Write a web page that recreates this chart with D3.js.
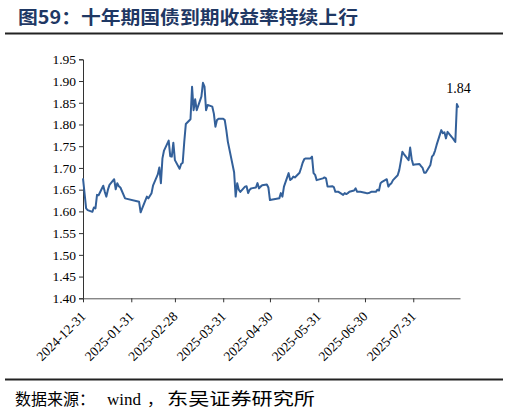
<!doctype html>
<html>
<head>
  <meta charset="utf-8">
  <title>十年期国债到期收益率持续上行</title>
  <script src="https://d3js.org/d3.v7.min.js"></script>
  <style>
    body { margin: 0; background: #fff; }
    .tick text { font-family: "Liberation Serif", "Times New Roman", serif; font-size: 13px; fill: #000; }
  </style>
</head>
<body>
  <div id="chart"></div>
  <script>
    // 十年期国债到期收益率 (%)，按交易日
    var dates = [
      "2024-12-31", "2025-01-02", "2025-01-03", "2025-01-06", "2025-01-07", "2025-01-08", "2025-01-09", "2025-01-10",
      "2025-01-13", "2025-01-14", "2025-01-15", "2025-01-16", "2025-01-17", "2025-01-20", "2025-01-21", "2025-01-22",
      "2025-01-23", "2025-01-24", "2025-01-27", "2025-02-05", "2025-02-06", "2025-02-07", "2025-02-10", "2025-02-11",
      "2025-02-13", "2025-02-14", "2025-02-17", "2025-02-18", "2025-02-19", "2025-02-20", "2025-02-21", "2025-02-24",
      "2025-02-25", "2025-02-26", "2025-02-27", "2025-02-28", "2025-03-03", "2025-03-04", "2025-03-05", "2025-03-06",
      "2025-03-07", "2025-03-10", "2025-03-11", "2025-03-12", "2025-03-13", "2025-03-14", "2025-03-17", "2025-03-18",
      "2025-03-19", "2025-03-20", "2025-03-21", "2025-03-24", "2025-03-25", "2025-03-26", "2025-03-27", "2025-03-28",
      "2025-03-31", "2025-04-01", "2025-04-02", "2025-04-03", "2025-04-07", "2025-04-08", "2025-04-09", "2025-04-10",
      "2025-04-11", "2025-04-14", "2025-04-15", "2025-04-16", "2025-04-17", "2025-04-18", "2025-04-21", "2025-04-22",
      "2025-04-23", "2025-04-24", "2025-04-25", "2025-04-28", "2025-04-29", "2025-04-30", "2025-05-06", "2025-05-07",
      "2025-05-08", "2025-05-09", "2025-05-12", "2025-05-13", "2025-05-14", "2025-05-15", "2025-05-16", "2025-05-19",
      "2025-05-20", "2025-05-21", "2025-05-22", "2025-05-23", "2025-05-26", "2025-05-27", "2025-05-28", "2025-05-29",
      "2025-05-30", "2025-06-03", "2025-06-04", "2025-06-05", "2025-06-06", "2025-06-09", "2025-06-10", "2025-06-11",
      "2025-06-12", "2025-06-13", "2025-06-16", "2025-06-17", "2025-06-18", "2025-06-19", "2025-06-20", "2025-06-23",
      "2025-06-24", "2025-06-25", "2025-06-26", "2025-06-27", "2025-06-30", "2025-07-01", "2025-07-02", "2025-07-03",
      "2025-07-04", "2025-07-07", "2025-07-08", "2025-07-09", "2025-07-10", "2025-07-11", "2025-07-14", "2025-07-15",
      "2025-07-16", "2025-07-17", "2025-07-18", "2025-07-21", "2025-07-22", "2025-07-23", "2025-07-24", "2025-07-25",
      "2025-07-28", "2025-07-29", "2025-07-30", "2025-07-31", "2025-08-01", "2025-08-04", "2025-08-05", "2025-08-06",
      "2025-08-07", "2025-08-08", "2025-08-11", "2025-08-12", "2025-08-13", "2025-08-14", "2025-08-15", "2025-08-18",
      "2025-08-19", "2025-08-20", "2025-08-21", "2025-08-22", "2025-08-25", "2025-08-26", "2025-08-27", "2025-08-28",
      "2025-08-29"
    ];
    var yields = [
      1.676, 1.607, 1.603, 1.599, 1.609, 1.607, 1.638, 1.637,
      1.659, 1.645, 1.634, 1.650, 1.661, 1.674, 1.651, 1.665,
      1.658, 1.655, 1.630, 1.622, 1.598, 1.607, 1.634, 1.630,
      1.642, 1.660, 1.685, 1.701, 1.665, 1.722, 1.740, 1.763,
      1.727, 1.726, 1.758, 1.718, 1.698, 1.709, 1.712, 1.760,
      1.801, 1.812, 1.887, 1.833, 1.858, 1.833, 1.864, 1.896,
      1.887, 1.833, 1.845, 1.841, 1.825, 1.795, 1.810, 1.813,
      1.813, 1.810, 1.787, 1.760, 1.690, 1.634, 1.665, 1.650,
      1.645, 1.657, 1.658, 1.642, 1.650, 1.653, 1.655, 1.665,
      1.653, 1.657, 1.660, 1.662, 1.655, 1.626, 1.630, 1.642,
      1.634, 1.657, 1.688, 1.672, 1.675, 1.680, 1.678, 1.689,
      1.700, 1.712, 1.720, 1.722, 1.722, 1.726, 1.688, 1.684,
      1.672, 1.676, 1.678, 1.676, 1.657, 1.658, 1.656, 1.645,
      1.645, 1.645, 1.638, 1.642, 1.640, 1.642, 1.645, 1.648,
      1.653, 1.645, 1.645, 1.645, 1.643, 1.642, 1.642, 1.643,
      1.645, 1.645, 1.650, 1.648, 1.665, 1.668, 1.674, 1.657,
      1.662, 1.665, 1.672, 1.683, 1.695, 1.715, 1.737, 1.732,
      1.718, 1.747, 1.720, 1.707, 1.708, 1.709, 1.704, 1.700,
      1.689, 1.689, 1.707, 1.726, 1.730, 1.740, 1.753, 1.787,
      1.780, 1.782, 1.768, 1.783, 1.770, 1.765, 1.760, 1.847,
      1.839
    ];
    var yTicks = [1.40, 1.45, 1.50, 1.55, 1.60, 1.65, 1.70, 1.75, 1.80, 1.85, 1.90, 1.95];
    var xTicks = ["2024-12-31", "2025-01-31", "2025-02-28", "2025-03-31", "2025-04-30", "2025-05-31", "2025-06-30", "2025-07-31"];
    var xDomain = ["2024-12-31", "2025-08-30"];
    var lastLabel = "1.84";

    var width = 509;
    var height = 413;
    var parse = d3.timeParse("%Y-%m-%d");
    var fmt = d3.timeFormat("%Y-%m-%d");

    var data = dates.map(function(d, i) {
      return { date: parse(d), value: yields[i] };
    });

    var svg = d3.select("#chart")
      .append("svg")
      .attr("width", width)
      .attr("height", height);

    // title
    svg.append("text")
      .attr("x", 18)
      .attr("y", 24)
      .attr("textLength", 340)
      .attr("lengthAdjust", "spacingAndGlyphs")
      .style("font-family", "'Noto Sans CJK SC', sans-serif")
      .style("font-weight", "bold")
      .style("font-size", "18px")
      .style("fill", "#1f3864")
      .text("图59：十年期国债到期收益率持续上行");

    svg.append("line")
      .attr("x1", 5).attr("x2", 503)
      .attr("y1", 33.5).attr("y2", 33.5)
      .attr("stroke", "#222").attr("stroke-width", 2);

    svg.append("line")
      .attr("x1", 5).attr("x2", 503)
      .attr("y1", 379.5).attr("y2", 379.5)
      .attr("stroke", "#222").attr("stroke-width", 2);

    // source note, in pieces so the Latin part stays serif
    var src = svg.append("g")
      .style("font-size", "16px")
      .style("fill", "#000");
    src.append("text")
      .attr("x", 15).attr("y", 405)
      .style("font-family", "'Noto Sans CJK SC', sans-serif")
      .text("数据来源：");
    src.append("text")
      .attr("x", 107).attr("y", 405)
      .style("font-family", "'Liberation Serif', serif")
      .style("font-size", "17px")
      .text("wind");
    src.append("text")
      .attr("x", 147).attr("y", 405)
      .style("font-family", "'Noto Sans CJK SC', sans-serif")
      .text("，");
    src.append("text")
      .attr("x", 167).attr("y", 405)
      .attr("textLength", 148)
      .attr("lengthAdjust", "spacingAndGlyphs")
      .style("font-family", "'Noto Sans CJK SC', sans-serif")
      .style("font-size", "17px")
      .text("东吴证券研究所");

    // scales
    var x = d3.scaleTime()
      .domain(xDomain.map(parse))
      .range([83, 460]);

    var y = d3.scaleLinear()
      .domain([1.40, 1.95])
      .range([298.3, 59.3]);

    // y axis
    var yAxis = svg.append("g")
      .attr("transform", "translate(83,0)")
      .call(d3.axisLeft(y).tickValues(yTicks).tickFormat(d3.format(".2f")).tickSize(4).tickPadding(3));
    yAxis.select(".domain").attr("stroke", "#333");
    yAxis.selectAll(".tick line").attr("stroke", "#333");
    yAxis.selectAll(".tick text").style("font-size", "13.5px");

    // x axis
    var xAxis = svg.append("g")
      .attr("transform", "translate(0,298.3)")
      .call(d3.axisBottom(x).tickValues(xTicks.map(parse)).tickFormat(fmt).tickSize(4).tickSizeOuter(0));
    xAxis.select(".domain").attr("stroke", "#555");
    xAxis.selectAll(".tick line").attr("stroke", "#333");
    xAxis.selectAll(".tick text")
      .attr("text-anchor", "end")
      .attr("x", 0)
      .attr("y", 0)
      .attr("dy", 0)
      .style("font-size", "13.5px")
      .attr("transform", "translate(3,19) rotate(-45)");

    // line
    var line = d3.line()
      .x(function(d) { return x(d.date); })
      .y(function(d) { return y(d.value); });

    svg.append("path")
      .datum(data)
      .attr("d", line)
      .attr("fill", "none")
      .attr("stroke", "#33609a")
      .attr("stroke-width", 2)
      .attr("stroke-linejoin", "round");

    var last = data[data.length - 1];
    svg.append("text")
      .attr("x", x(last.date))
      .attr("y", y(last.value) - 15)
      .attr("text-anchor", "middle")
      .style("font-family", "'Liberation Serif', 'Times New Roman', serif")
      .style("font-size", "14px")
      .text(lastLabel);
  </script>
</body>
</html>
